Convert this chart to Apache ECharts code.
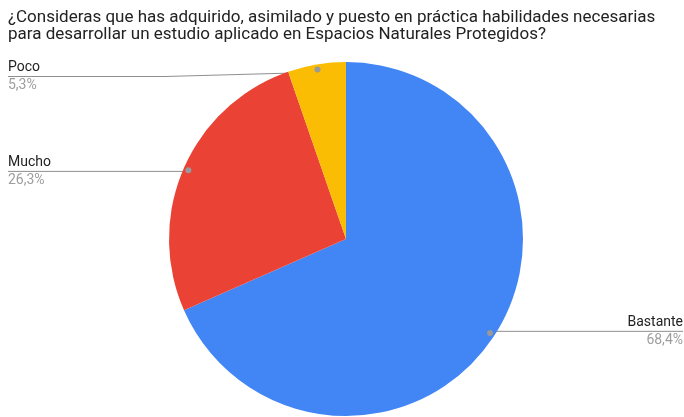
<!DOCTYPE html>
<html>
<head>
<meta charset="utf-8">
<script src="https://cdn.jsdelivr.net/npm/echarts@6/dist/echarts.min.js"></script>
<style>html,body{margin:0;padding:0;background:#fff}#c{width:684px;height:417px}</style>
</head>
<body>
<div id="c"></div>
<script>
const titleLines = ['¿Consideras que has adquirido, asimilado y puesto en práctica habilidades necesarias', 'para desarrollar un estudio aplicado en Espacios Naturales Protegidos?'];
const categories = ['Bastante', 'Mucho', 'Poco'];
const values = [68.4, 26.3, 5.3];
const colors = ['#4285F4', '#EA4335', '#FBBC04'];

const CX = 346, CY = 239, R = 177, RDOT = 169;
const W = 684;
const chart = echarts.init(document.getElementById('c'), null, {renderer: 'canvas'});

function fmtPct(v) { return v.toFixed(1).replace('.', ',') + '%'; }

const data = categories.map((c, i) => ({
  name: c, value: values[i], itemStyle: {color: colors[i]}
}));

chart.setOption({
  animation: false,
  backgroundColor: '#fff',
  title: {
    text: titleLines.join('\n'),
    left: 8, top: 9, padding: 0,
    textStyle: {fontFamily: 'Roboto', fontSize: 17, lineHeight: 17, fontWeight: 'normal', color: '#222'}
  },
  series: [
    {
      type: 'pie',
      center: [CX, CY],
      radius: [0, R],
      startAngle: 90,
      clockwise: true,
      silent: true,
      emphasis: {disabled: true},
      data: data,
      label: {
        show: true,
        position: 'outside',
        formatter: p => '{n|' + p.name + '}\n{p|' + fmtPct(values[p.dataIndex]) + '}',
        rich: {
          n: {fontFamily: 'Roboto', fontSize: 14, lineHeight: 18, color: '#222'},
          p: {fontFamily: 'Roboto', fontSize: 14, lineHeight: 18, color: '#9e9e9e'}
        }
      },
      labelLine: {show: true, length: 10, length2: 10, lineStyle: {color: '#8f8f8f', width: 1}},
      labelLayout: function (params) {
        const p0 = params.labelLinePoints ? params.labelLinePoints[0] : [CX, CY - R];
        const ang = Math.atan2(p0[1] - CY, p0[0] - CX);
        const dx = CX + RDOT * Math.cos(ang);
        const dy = CY + RDOT * Math.sin(ang);
        const right = dx > CX;
        const ly = Math.max(dy, 76.5);
        const w = params.labelRect.width;
        if (right) {
          const ex = W - 1;
          return {
            x: ex, y: ly, align: 'right', verticalAlign: 'middle',
            labelLinePoints: [[dx, dy], [Math.max(dx, ex - w - 150), ly], [ex, ly]]
          };
        } else {
          const ex = 8;
          return {
            x: ex, y: ly, align: 'left', verticalAlign: 'middle',
            labelLinePoints: [[dx, dy], [Math.min(dx, Math.max(ex + w, dx - 153)), ly], [ex, ly]]
          };
        }
      }
    },
    {
      type: 'pie',
      center: [CX, CY],
      radius: [RDOT - 9, RDOT + 9],
      startAngle: 90,
      clockwise: true,
      silent: true,
      z: 5,
      emphasis: {disabled: true},
      itemStyle: {color: 'rgba(0,0,0,0)'},
      data: categories.map((c, i) => ({name: c, value: values[i]})),
      label: {
        show: true,
        position: 'inside',
        formatter: '{d|}',
        rich: {d: {width: 6, height: 6, borderRadius: 3, backgroundColor: '#999999'}}
      },
      labelLine: {show: false}
    }
  ]
});
</script>
</body>
</html>
